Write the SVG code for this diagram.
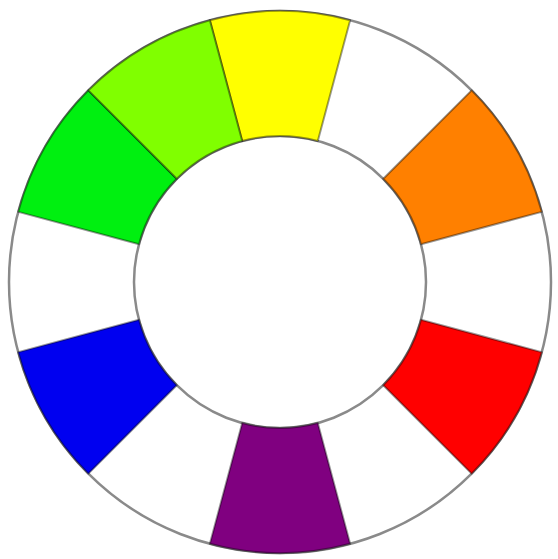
<svg xmlns="http://www.w3.org/2000/svg" width="558" height="559" viewBox="0 0 558 559">
<style>
.ring{fill:none;stroke:#8a8a8a;stroke-width:2.5}
.seg{stroke:#000;stroke-opacity:0.4;stroke-width:2;stroke-linejoin:round}
</style>
<rect x="0" y="0" width="558" height="559" fill="#ffffff"/>
<g id="wheel">
<g id="ring-lines">
<circle class="ring" cx="280" cy="282" r="271"/>
<circle class="ring" cx="280" cy="282" r="146"/>
</g>
<g id="seg-yellow"><path class="seg" fill="#ffff00" d="M209.86,20.23 A271,271 0 0 1 350.14,20.23 L317.79,140.97 A146,146 0 0 0 242.21,140.97 Z"/></g>
<g id="seg-orange"><path class="seg" fill="#ff8000" d="M471.63,90.37 A271,271 0 0 1 541.77,211.86 L421.03,244.21 A146,146 0 0 0 383.24,178.76 Z"/></g>
<g id="seg-red"><path class="seg" fill="#ff0000" d="M541.77,352.14 A271,271 0 0 1 471.63,473.63 L383.24,385.24 A146,146 0 0 0 421.03,319.79 Z"/></g>
<g id="seg-purple"><path class="seg" fill="#800080" d="M350.14,543.77 A271,271 0 0 1 209.86,543.77 L242.21,423.03 A146,146 0 0 0 317.79,423.03 Z"/></g>
<g id="seg-blue"><path class="seg" fill="#0000f0" d="M88.37,473.63 A271,271 0 0 1 18.23,352.14 L138.97,319.79 A146,146 0 0 0 176.76,385.24 Z"/></g>
<g id="seg-green"><path class="seg" fill="#00f010" d="M18.23,211.86 A271,271 0 0 1 88.37,90.37 L176.76,178.76 A146,146 0 0 0 138.97,244.21 Z"/></g>
<g id="seg-yellowgreen"><path class="seg" fill="#80ff00" d="M88.37,90.37 A271,271 0 0 1 209.86,20.23 L242.21,140.97 A146,146 0 0 0 176.76,178.76 Z"/></g>
</g>
</svg>
